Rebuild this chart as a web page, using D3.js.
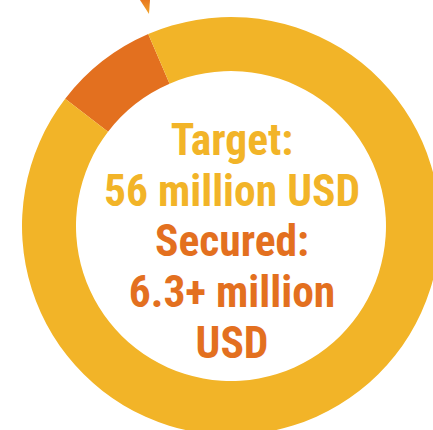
<!DOCTYPE html>
<html>
<head>
<meta charset="utf-8">
<script src="https://cdn.jsdelivr.net/npm/d3@7"></script>
<style>
  html, body { margin: 0; padding: 0; background: #fff; }
  svg { display: block; }
</style>
</head>
<body>
<svg id="chart"></svg>
<script>
// Data
var segments = ["Secured", "Remaining"];
var shares = [8.1, 91.9];          // percent of ring
var targetLines = ["Target:", "56 million USD"];
var securedLines = ["Secured:", "6.3+ million", "USD"];

var width = 433, height = 430;
var cx = 231, cy = 226;
var outerR = 209, innerR = 155;

var color = d3.scaleOrdinal()
    .domain(segments)
    .range(["#e3701f", "#f2b428"]);

var svg = d3.select('#chart')
    .attr('width', width)
    .attr('height', height);

// little arrow tip poking in from above
var grad = svg.append('defs').append('linearGradient')
    .attr('id', 'tip')
    .attr('x1', 0).attr('y1', 0).attr('x2', 0).attr('y2', 1);
grad.append('stop').attr('offset', '0%').attr('stop-color', '#e8781f');
grad.append('stop').attr('offset', '100%').attr('stop-color', '#f2a52a');
svg.append('path')
    .attr('d', 'M140,0 L150,0 L149,14 Z')
    .attr('fill', 'url(#tip)');

var start = -52.5 * Math.PI / 180;
var pie = d3.pie()
    .sort(null)
    .startAngle(start)
    .endAngle(start + 2 * Math.PI);

var arc = d3.arc()
    .innerRadius(innerR)
    .outerRadius(outerR);

var g = svg.append('g')
    .attr('transform', 'translate(' + cx + ',' + cy + ')');

g.selectAll('path.slice')
    .data(pie(shares))
    .enter().append('path')
    .attr('class', 'slice')
    .attr('d', arc)
    .attr('fill', function (d, i) { return color(segments[i]); });

// centre label
var lines = targetLines.map(function (t) { return { text: t, c: color("Remaining") }; })
    .concat(securedLines.map(function (t) { return { text: t, c: color("Secured") }; }));

g.selectAll('text.label')
    .data(lines)
    .enter().append('text')
    .attr('class', 'label')
    .attr('x', 1)
    .attr('y', function (d, i) { return -71 + i * 50.7; })
    .attr('text-anchor', 'middle')
    .style('font-family', 'Roboto, sans-serif')
    .style('font-stretch', 'condensed')
    .style('font-weight', 'bold')
    .style('font-size', '43.5px')
    .style('fill', function (d) { return d.c; })
    .text(function (d) { return d.text; });
</script>
</body>
</html>
